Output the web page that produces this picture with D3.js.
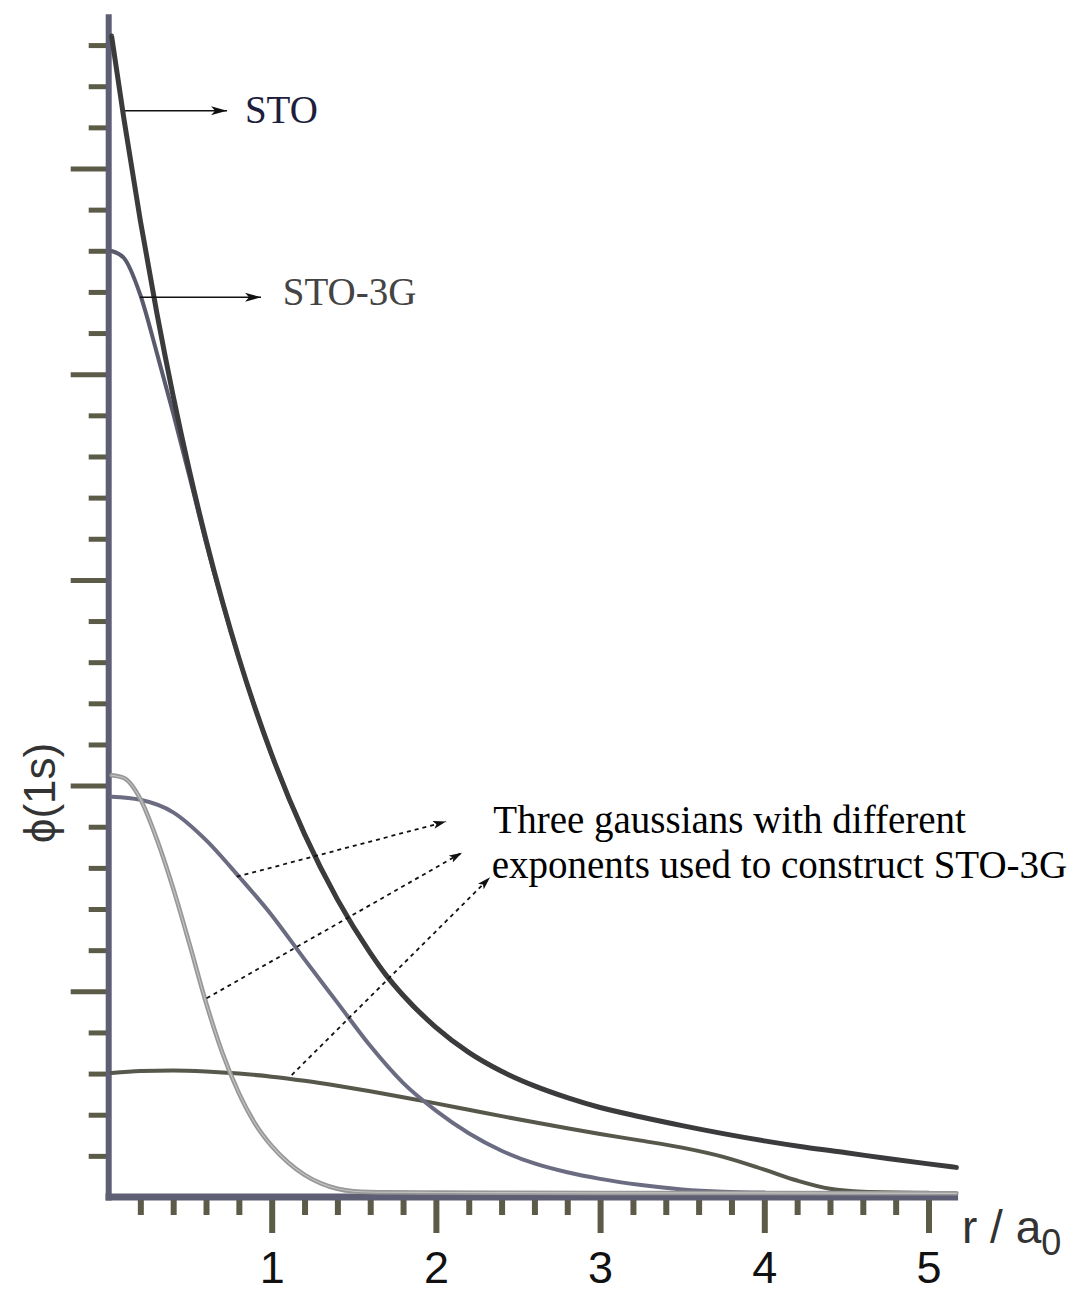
<!DOCTYPE html>
<html lang="en">
<head>
<meta charset="UTF-8">
<title>STO vs STO-3G</title>
<script src="https://d3js.org/d3.v7.min.js"></script>
<style>
    body { margin: 0; background: #fff; }
    .tick-label { font-family: "Liberation Sans", Arial, sans-serif; font-size: 45px; fill: #111; }
    .axis-title { font-family: "Liberation Sans", Arial, sans-serif; fill: #333; }
    .note { font-family: "Liberation Serif", "Times New Roman", serif; font-size: 39px; }
</style>
</head>
<body>
<svg width="1074" height="1293"></svg>

<script>
// Slater orbital (STO)
const stoR   = [0.025, 0.1, 0.2, 0.3, 0.4, 0.5, 0.6, 0.7, 0.8, 0.9, 1.0, 1.2, 1.4, 1.6, 1.7, 1.8, 2.0, 2.2, 2.4, 2.6, 2.8, 3.0, 3.25, 3.5, 3.75, 4.0, 4.25, 4.5, 4.75, 5.0, 5.17];
const stoPhi = [0.5644, 0.5241, 0.4747, 0.4300, 0.3894, 0.3527, 0.3195, 0.2894, 0.2621, 0.2374, 0.2150, 0.1764, 0.1447, 0.1187, 0.1075, 0.0981, 0.0825, 0.0703, 0.0611, 0.0540, 0.0483, 0.0435, 0.0389, 0.0347, 0.0308, 0.0273, 0.0242, 0.0215, 0.0187, 0.0161, 0.0144];

// STO-3G contraction
const sto3gR   = [0.025, 0.1, 0.2, 0.3, 0.4, 0.5, 0.6, 0.7, 0.8, 0.9, 1.0, 1.2, 1.4, 1.6, 1.8, 2.0, 2.2, 2.4];
const sto3gPhi = [0.4599, 0.4565, 0.4385, 0.4105, 0.3810, 0.3500, 0.3182, 0.2890, 0.2619, 0.2373, 0.2149, 0.1763, 0.1446, 0.1186, 0.0980, 0.0824, 0.0702, 0.0610];

// the three primitive gaussians
const gTightR   = [0.025, 0.1, 0.2, 0.3, 0.4, 0.5, 0.6, 0.7, 0.8, 0.9, 1.0, 1.1, 1.2, 1.3, 1.4, 1.5, 1.7, 2.0, 3.0, 4.0, 5.17];
const gTightPhi = [0.2050, 0.2037, 0.1935, 0.1740, 0.1500, 0.1228, 0.0945, 0.0700, 0.0505, 0.0355, 0.0248, 0.0168, 0.0108, 0.0066, 0.0040, 0.0028, 0.0023, 0.0022, 0.0020, 0.0020, 0.0018];

const gMidR   = [0.025, 0.2, 0.4, 0.6, 0.8, 1.0, 1.2, 1.4, 1.6, 1.8, 2.0, 2.2, 2.4, 2.6, 2.8, 3.0, 3.25, 3.5, 3.75, 4.0];
const gMidPhi = [0.1946, 0.1931, 0.1870, 0.1735, 0.1558, 0.1370, 0.1155, 0.0945, 0.0735, 0.0555, 0.0420, 0.0310, 0.0225, 0.0163, 0.0120, 0.0088, 0.0058, 0.0037, 0.0026, 0.0022];

const gWideR   = [0.025, 0.2, 0.4, 0.6, 0.8, 1.0, 1.2, 1.4, 1.6, 1.8, 2.0, 2.2, 2.4, 2.6, 2.8, 3.0, 3.25, 3.5, 3.75, 4.0, 4.2, 4.4, 4.6, 5.0];
const gWidePhi = [0.0603, 0.0612, 0.0615, 0.0610, 0.0600, 0.0585, 0.0565, 0.0541, 0.0514, 0.0485, 0.0455, 0.0424, 0.0393, 0.0363, 0.0334, 0.0306, 0.0274, 0.0240, 0.0195, 0.0133, 0.0080, 0.0040, 0.0026, 0.0021];

// ticks
const xMajor = [1, 2, 3, 4, 5];
const xMinor = d3.range(1, 26).map(i => i / 5).filter(v => !Number.isInteger(v));
const yMajor = [0.1, 0.2, 0.3, 0.4, 0.5];
const yMinor = d3.range(1, 29).map(i => i / 50).filter(v => Math.round(v * 100) % 10 !== 0);

const svg = d3.select("svg");

const x = d3.scaleLinear().domain([0, 5]).range([107.5, 928.5]);
const y = d3.scaleLinear().domain([0, 0.5]).range([1197, 168.5]);

const axisColor = "#5e5e74";
const tickColor = "#5b5b48";

// arrow heads
const defs = svg.append("defs");
defs.append("marker")
    .attr("id", "head").attr("viewBox", "0 0 16 9")
    .attr("refX", 16).attr("refY", 4.5)
    .attr("markerWidth", 16).attr("markerHeight", 9)
    .attr("markerUnits", "userSpaceOnUse").attr("orient", "auto")
    .append("path").attr("d", "M0,0 L16,4.5 L0,9 L4,4.5 Z").attr("fill", "#111");
defs.append("marker")
    .attr("id", "headSmall").attr("viewBox", "0 0 13 8")
    .attr("refX", 13).attr("refY", 4)
    .attr("markerWidth", 13).attr("markerHeight", 8)
    .attr("markerUnits", "userSpaceOnUse").attr("orient", "auto")
    .append("path").attr("d", "M0,0 L13,4 L0,8 L3,4 Z").attr("fill", "#111");

// y ticks
function yTicks(values, size) {
    const g = svg.append("g")
        .attr("transform", `translate(${x(0) + 1.2},0)`)
        .call(d3.axisLeft(y).tickValues(values).tickSize(size).tickFormat(""));
    g.select(".domain").remove();
    g.selectAll("line").attr("stroke", tickColor).attr("stroke-width", 5);
}
yTicks(yMinor, 20);
yTicks(yMajor, 38);

// x ticks
const xMinorAxis = svg.append("g")
    .attr("transform", `translate(0,${y(0)})`)
    .call(d3.axisBottom(x).tickValues(xMinor).tickSize(18).tickFormat(""));
xMinorAxis.select(".domain").remove();
xMinorAxis.selectAll("line").attr("stroke", tickColor).attr("stroke-width", 6);

const xMajorAxis = svg.append("g")
    .attr("transform", `translate(0,${y(0)})`)
    .call(d3.axisBottom(x).tickValues(xMajor).tickSize(36).tickFormat(d3.format("d")));
xMajorAxis.select(".domain").remove();
xMajorAxis.selectAll("line").attr("stroke", tickColor).attr("stroke-width", 6);
xMajorAxis.selectAll("text")
    .attr("class", "tick-label")
    .attr("y", 86).attr("dy", null)
    .attr("fill", null);

// axis lines
svg.append("line")
    .attr("x1", x(0) + 1.2).attr("x2", x(0) + 1.2)
    .attr("y1", y(0) + 3.5).attr("y2", y(0.575))
    .attr("stroke", axisColor).attr("stroke-width", 6);
svg.append("line")
    .attr("x1", x(0) - 2).attr("x2", x(5.18))
    .attr("y1", y(0)).attr("y2", y(0))
    .attr("stroke", axisColor).attr("stroke-width", 7);

// curves
const line = d3.line()
    .x(d => x(d[0]))
    .y(d => y(d[1]))
    .curve(d3.curveMonotoneX);

function curve(rs, phis, color, width) {
    return svg.append("path")
        .datum(d3.zip(rs, phis))
        .attr("d", line)
        .attr("fill", "none")
        .attr("stroke", color)
        .attr("stroke-width", width)
        .attr("stroke-linecap", "round")
        .attr("stroke-linejoin", "round");
}

curve(gWideR, gWidePhi, "#57574c", 4);
curve(gMidR, gMidPhi, "#6b6b82", 4);
curve(gTightR, gTightPhi, "#979797", 4.5);
curve(gTightR, gTightPhi, "#c2c2c2", 1.2);
curve(sto3gR, sto3gPhi, "#5a5a6e", 4);
curve(stoR, stoPhi, "#3b3b3d", 5);

// labels with arrows
svg.append("line")
    .attr("x1", x(0.107)).attr("y1", y(0.5281))
    .attr("x2", x(0.728)).attr("y2", y(0.5281))
    .attr("stroke", "#111").attr("stroke-width", 1.6)
    .attr("marker-end", "url(#head)");
svg.append("text").attr("class", "note")
    .attr("x", x(0.837)).attr("y", y(0.5220))
    .attr("fill", "#1d1d3d").text("STO");

svg.append("line")
    .attr("x1", x(0.198)).attr("y1", y(0.4374))
    .attr("x2", x(0.935)).attr("y2", y(0.4374))
    .attr("stroke", "#111").attr("stroke-width", 1.6)
    .attr("marker-end", "url(#head)");
svg.append("text").attr("class", "note")
    .attr("x", x(1.067)).attr("y", y(0.4336))
    .attr("fill", "#444").text("STO-3G");

const pointers = [
    [[0.787, 0.1557], [2.062, 0.1825]],
    [[0.604, 0.0966], [2.159, 0.1674]],
    [[1.122, 0.0593], [2.330, 0.1554]]
];
svg.selectAll(".pointer")
    .data(pointers)
    .enter()
    .append("line")
    .attr("class", "pointer")
    .attr("x1", d => x(d[0][0])).attr("y1", d => y(d[0][1]))
    .attr("x2", d => x(d[1][0])).attr("y2", d => y(d[1][1]))
    .attr("stroke", "#111").attr("stroke-width", 1.8)
    .attr("stroke-dasharray", "4,4")
    .attr("marker-end", "url(#headSmall)");

svg.append("text").attr("class", "note")
    .attr("x", x(2.35)).attr("y", y(0.1770))
    .attr("fill", "#000").text("Three gaussians with different");
svg.append("text").attr("class", "note")
    .attr("x", x(2.34)).attr("y", y(0.1551))
    .attr("fill", "#000").text("exponents used to construct STO-3G");

// axis titles
const xTitle = svg.append("text").attr("class", "axis-title")
    .attr("x", 962).attr("y", 1243)
    .attr("font-size", 46)
    .text("r / a");
xTitle.append("tspan").attr("font-size", 36).attr("dy", 12).text("0");

svg.append("text").attr("class", "axis-title")
    .attr("transform", "translate(55,793) rotate(-90)")
    .attr("text-anchor", "middle")
    .attr("font-size", 44)
    .text("ϕ(1s)");
</script>
</body>
</html>
